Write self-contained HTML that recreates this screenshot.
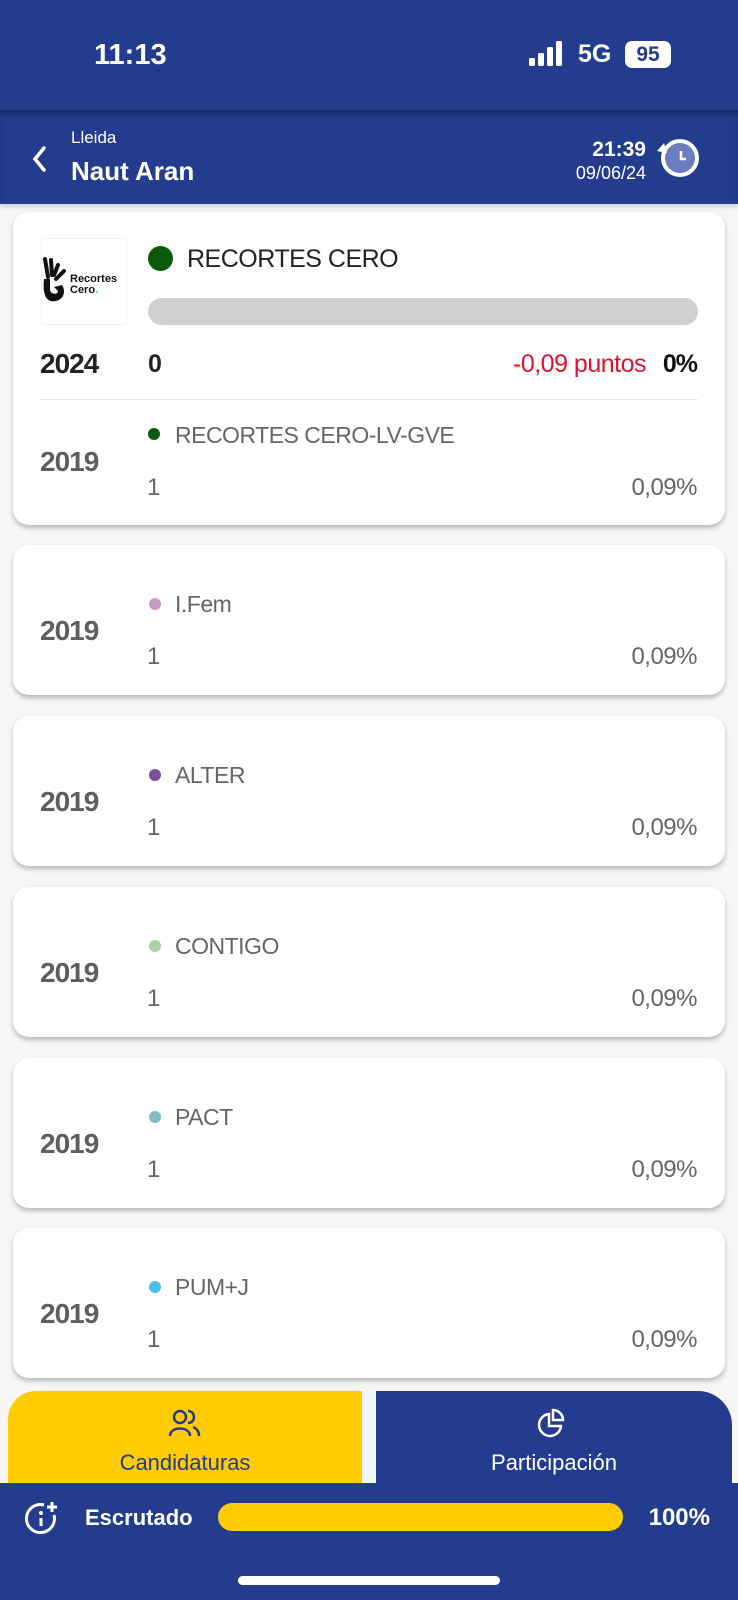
<!DOCTYPE html>
<html><head><meta charset="utf-8"><style>
*{margin:0;padding:0;box-sizing:border-box}
body{width:738px;height:1600px;background:#f6f6f6;font-family:"Liberation Sans",sans-serif;position:relative;overflow:hidden}
.a{position:absolute}
.card{position:absolute;left:13px;width:712px;background:#fff;border-radius:16px;box-shadow:0 3px 5px rgba(0,0,0,0.25)}
.y19{position:absolute;left:27px;font-weight:bold;font-size:28px;color:#5e5e5e;letter-spacing:-1px}
.nm{position:absolute;left:162px;font-size:23px;color:#666;letter-spacing:-0.5px}
.dot{position:absolute;left:136px;width:12px;height:12px;border-radius:50%}
.one{position:absolute;left:134px;font-size:24px;color:#666}
.pc{position:absolute;right:28px;font-size:24px;color:#666;letter-spacing:-0.5px}
</style></head><body>
<div class="a" style="left:0;top:0;width:738px;height:112px;background:#233c8d"></div>
<div class="a" style="left:94px;top:39px;color:#fff;font-weight:bold;font-size:29px">11:13</div>
<svg class="a" style="left:529px;top:40px" width="40" height="28"><rect x="0" y="18" width="6" height="8" rx="1.5" fill="#fff"/><rect x="9" y="13" width="6" height="13" rx="1.5" fill="#fff"/><rect x="18" y="7" width="6" height="19" rx="1.5" fill="#fff"/><rect x="27" y="1" width="6" height="25" rx="1.5" fill="#fff"/></svg>
<div class="a" style="left:578px;top:40px;color:#fff;font-weight:bold;font-size:25px">5G</div>
<div class="a" style="left:625px;top:41px;width:46px;height:27px;background:#fff;border-radius:7px;color:#233c8d;font-weight:bold;font-size:21px;text-align:center;line-height:27px">95</div>
<div class="a" style="left:0;top:110px;width:738px;height:94px;background:#233c8d;box-shadow:inset 0 6px 6px -3px rgba(0,0,0,0.35),0 3px 4px rgba(0,0,0,0.15)"></div>
<svg class="a" style="left:30px;top:144px" width="20" height="30"><path d="M14 4 L5 15 L14 26" stroke="#fff" stroke-width="3.5" fill="none" stroke-linecap="round"/></svg>
<div class="a" style="left:71px;top:128px;color:#fff;font-size:17px">Lleida</div>
<div class="a" style="left:71px;top:156px;color:#fff;font-weight:bold;font-size:26px">Naut Aran</div>
<div class="a" style="right:92px;top:138px;color:#fff;font-weight:bold;font-size:21px">21:39</div>
<div class="a" style="right:92px;top:163px;color:#fff;font-size:18px">09/06/24</div>
<svg class="a" style="left:653px;top:135px" width="50" height="46"><circle cx="27" cy="23" r="17" fill="#6b7fc0" stroke="#fff" stroke-width="4"/><path d="M28 16 V24 H33" stroke="#fff" stroke-width="2.5" fill="none"/><path d="M4 16 L11 8 L14 18" fill="#fff"/></svg>

<div class="card" style="top:212px;height:313px"></div>
<div class="a" style="left:41px;top:238px;width:86px;height:87px;background:#fff;border:1px solid #f2f2f2"></div>
<svg class="a" style="left:40px;top:257px" width="30" height="48"><path d="M5 2 L8 20 M11 3 L12 18 M18 8 L14 18 M24 14 L16 22" stroke="#111" stroke-width="4" stroke-linecap="round"/><path d="M4 22 C2 40 8 46 16 44 C24 42 26 34 22 28 L14 30 L18 34 C18 38 10 38 10 32 L10 22 Z" fill="#111"/></svg>
<div class="a" style="left:70px;top:274px;font-weight:bold;font-size:11px;line-height:11px;color:#111">Recortes<br>Cero<span style="color:#2cc">.</span></div>
<div class="a" style="left:148px;top:246px;width:25px;height:25px;border-radius:50%;background:#0a5a0c"></div>
<div class="a" style="left:187px;top:245px;font-size:25px;color:#222;letter-spacing:-0.5px">RECORTES CERO</div>
<div class="a" style="left:148px;top:298px;width:550px;height:27px;border-radius:14px;background:#d0d0d0"></div>
<div class="a" style="left:40px;top:348px;font-weight:bold;font-size:28px;color:#222;letter-spacing:-1px">2024</div>
<div class="a" style="left:148px;top:350px;font-weight:bold;font-size:25px;color:#222">0</div>
<div class="a" style="right:92px;top:350px;font-size:25px;color:#e0102e;letter-spacing:-0.5px">-0,09 puntos</div>
<div class="a" style="right:41px;top:350px;font-weight:bold;font-size:25px;color:#111;letter-spacing:-1px">0%</div>
<div class="a" style="left:40px;top:399px;width:658px;height:1px;background:#eaeaea"></div>
<div class="a" style="left:40px;top:446px;font-weight:bold;font-size:28px;color:#5e5e5e;letter-spacing:-1px">2019</div>
<div class="a" style="left:148px;top:428px;width:12px;height:12px;border-radius:50%;background:#0a5a0c"></div>
<div class="a" style="left:175px;top:422px;font-size:23px;color:#666;letter-spacing:-0.5px">RECORTES CERO-LV-GVE</div>
<div class="a" style="left:147px;top:474px;font-size:24px;color:#666">1</div>
<div class="a" style="right:41px;top:474px;font-size:24px;color:#666;letter-spacing:-0.5px">0,09%</div>

<div class="card" style="top:545px;height:150px"><div class="dot" style="top:53px;background:#c99ac6"></div><div class="nm" style="top:46px">I.Fem</div><div class="y19" style="top:70px">2019</div><div class="one" style="top:98px">1</div><div class="pc" style="top:98px">0,09%</div></div>
<div class="card" style="top:716px;height:150px"><div class="dot" style="top:53px;background:#7b4f9c"></div><div class="nm" style="top:46px">ALTER</div><div class="y19" style="top:70px">2019</div><div class="one" style="top:98px">1</div><div class="pc" style="top:98px">0,09%</div></div>
<div class="card" style="top:887px;height:150px"><div class="dot" style="top:53px;background:#a9d3a0"></div><div class="nm" style="top:46px">CONTIGO</div><div class="y19" style="top:70px">2019</div><div class="one" style="top:98px">1</div><div class="pc" style="top:98px">0,09%</div></div>
<div class="card" style="top:1058px;height:150px"><div class="dot" style="top:53px;background:#7fbcc4"></div><div class="nm" style="top:46px">PACT</div><div class="y19" style="top:70px">2019</div><div class="one" style="top:98px">1</div><div class="pc" style="top:98px">0,09%</div></div>
<div class="card" style="top:1228px;height:150px"><div class="dot" style="top:53px;background:#4dbcef"></div><div class="nm" style="top:46px">PUM+J</div><div class="y19" style="top:70px">2019</div><div class="one" style="top:98px">1</div><div class="pc" style="top:98px">0,09%</div></div>

<div class="a" style="left:8px;top:1391px;width:354px;height:100px;background:#fecc00;border-radius:28px 0 0 0"></div>
<div class="a" style="left:376px;top:1391px;width:356px;height:100px;background:#233c8d;border-radius:0 34px 0 0"></div>
<svg class="a" style="left:168px;top:1408px" width="36" height="30"><circle cx="12" cy="9" r="6" stroke="#233c8d" stroke-width="2.5" fill="none"/><path d="M2 28 C2 18 22 18 22 28" stroke="#233c8d" stroke-width="2.5" fill="none"/><path d="M20 3 C28 3 28 15 20 15 M25 19 C30 21 31 25 31 28" stroke="#233c8d" stroke-width="2.5" fill="none"/></svg>
<div class="a" style="left:8px;width:354px;top:1450px;text-align:center;font-size:22px;color:#233c8d">Candidaturas</div>
<svg class="a" style="left:536px;top:1408px" width="32" height="32"><path d="M13 6 A11 11 0 1 0 25 18 L13 18 Z" stroke="#fff" stroke-width="2.5" fill="none"/><path d="M17 2 A10 10 0 0 1 27 12 L17 12 Z" stroke="#fff" stroke-width="2.5" fill="none"/></svg>
<div class="a" style="left:376px;width:356px;top:1450px;text-align:center;font-size:22px;color:#fff">Participación</div>

<div class="a" style="left:0;top:1483px;width:738px;height:117px;background:#233c8d"></div>
<svg class="a" style="left:24px;top:1500px" width="40" height="36"><path d="M30 15 A14 14 0 1 1 20 5" stroke="#fff" stroke-width="3" fill="none"/><circle cx="17" cy="13" r="2" fill="#fff"/><path d="M17 18 V26" stroke="#fff" stroke-width="3"/><path d="M28 2 V12 M23 7 H33" stroke="#fff" stroke-width="3"/></svg>
<div class="a" style="left:85px;top:1505px;font-weight:bold;font-size:22px;color:#fff">Escrutado</div>
<div class="a" style="left:218px;top:1503px;width:405px;height:28px;border-radius:14px;background:#fecc00"></div>
<div class="a" style="right:28px;top:1504px;font-weight:bold;font-size:24px;color:#fff">100%</div>
<div class="a" style="left:238px;top:1576px;width:262px;height:9px;border-radius:5px;background:#fff"></div>
</body></html>
